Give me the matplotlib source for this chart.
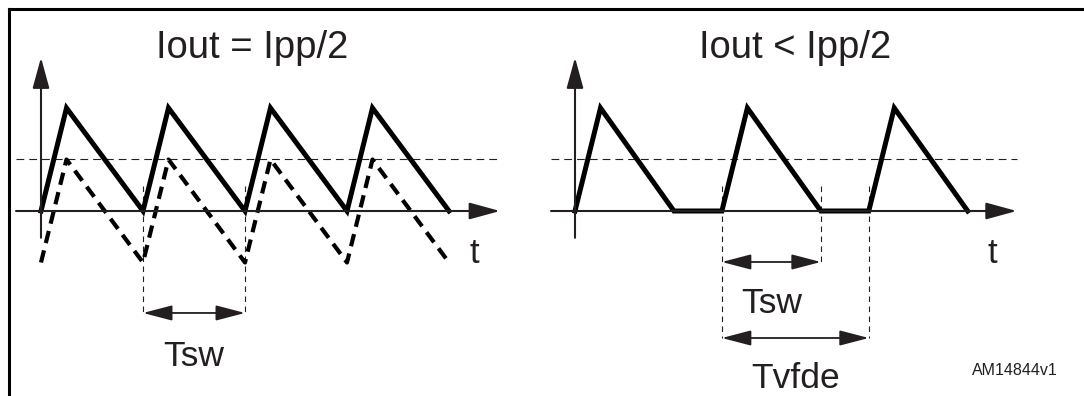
import matplotlib.pyplot as plt
from matplotlib.lines import Line2D

plt.rcParams['font.family'] = ['Liberation Sans', 'DejaVu Sans']

# Left panel: Iout = Ipp/2  (time in Tsw units, current in Ipp units)
left_t = [0, 0.25, 1, 1.25, 2, 2.25, 3, 3.25, 4]
left_i = [0, 1, 0, 1, 0, 1, 0, 1, 0]
left_i_dashed = [v - 0.5 for v in left_i]
left_guides = [1, 2]

# Right panel: Iout < Ipp/2, idle time between pulses
right_t = [0, 0.25, 0.97, 1.44, 1.69, 2.41, 2.88, 3.13, 3.85]
right_i = [0, 1, 0, 0, 1, 0, 0, 1, 0]
right_guides = [1.44, 2.41, 2.88]

half_level = 0.5
ink = '#231f20'

fig = plt.figure(figsize=(10.84, 3.96), dpi=100)

# frame (left and top edges only are visible)
fig.add_artist(Line2D([9 / 1084, 9 / 1084], [0, 1 - 8.5 / 396], color='black', lw=2.2))
fig.add_artist(Line2D([9 / 1084, 1], [1 - 8.5 / 396, 1 - 8.5 / 396], color='black', lw=2.2))

ylim = (-185 / 103, 211 / 103)
ax1 = fig.add_axes([0, 0, 0.5, 1])
ax1.set_xlim(-41 / 102, 501 / 102)
ax2 = fig.add_axes([0.5, 0, 0.5, 1])
ax2.set_xlim(-33 / 102, 509 / 102)
for ax in (ax1, ax2):
    ax.set_ylim(*ylim)
    ax.axis('off')


def axis_arrow(ax, start, end):
    ax.annotate('', xy=end, xytext=start,
                arrowprops=dict(arrowstyle='-|>,head_length=1.9,head_width=0.52',
                                mutation_scale=10, lw=1.5, color=ink,
                                shrinkA=0, shrinkB=0))


def span_arrow(ax, x0, x1, y):
    ax.annotate('', xy=(x1, y), xytext=(x0, y),
                arrowprops=dict(arrowstyle='<|-|>,head_length=1.8,head_width=0.47',
                                mutation_scale=10, lw=1.3, color=ink,
                                shrinkA=0, shrinkB=0))


# left panel
ax1.plot([-0.245, 4.5], [half_level, half_level], color=ink, lw=0.8, dashes=(7, 4.5))
for g in left_guides:
    ax1.plot([g, g], [0.24, -0.99], color=ink, lw=0.8, dashes=(5, 4))
axis_arrow(ax1, (-0.245, 0), (4.5, 0))
axis_arrow(ax1, (0, -0.26), (0, 1.49))
ax1.plot(left_t, left_i_dashed, color='black', lw=3.0, dashes=(3, 1.8))
ax1.plot(left_t, left_i, color='black', lw=3.6, solid_joinstyle='miter')
span_arrow(ax1, left_guides[0], left_guides[1], -0.99)
ax1.text(2.07, 1.485, 'Iout = Ipp/2', fontsize=27.5, color=ink, ha='center', va='baseline')
ax1.text(4.25, -0.505, 't', fontsize=25, color=ink, ha='center', va='baseline')
ax1.text(1.5, -1.50, 'Tsw', fontsize=25.5, color=ink, ha='center', va='baseline')

# right panel
ax2.plot([-0.235, 4.33], [half_level, half_level], color=ink, lw=0.8, dashes=(7, 4.5))
ax2.plot([right_guides[0]] * 2, [0.24, -1.233], color=ink, lw=0.8, dashes=(5, 4))
ax2.plot([right_guides[1]] * 2, [0.24, -0.495], color=ink, lw=0.8, dashes=(5, 4))
ax2.plot([right_guides[2]] * 2, [0.24, -1.233], color=ink, lw=0.8, dashes=(5, 4))
axis_arrow(ax2, (-0.235, 0), (4.33, 0))
axis_arrow(ax2, (0, -0.26), (0, 1.49))
ax2.plot(right_t, right_i, color='black', lw=3.6, solid_joinstyle='miter')
span_arrow(ax2, right_guides[0], right_guides[1], -0.495)
span_arrow(ax2, right_guides[0], right_guides[2], -1.233)
ax2.text(2.16, 1.485, 'Iout < Ipp/2', fontsize=27.5, color=ink, ha='center', va='baseline')
ax2.text(4.09, -0.505, 't', fontsize=25, color=ink, ha='center', va='baseline')
ax2.text(1.93, -0.99, 'Tsw', fontsize=25.5, color=ink, ha='center', va='baseline')
ax2.text(2.16, -1.72, 'Tvfde', fontsize=25.5, color=ink, ha='center', va='baseline')
ax2.text(4.31, -1.59, 'AM14844v1', fontsize=11.5, color=ink, ha='center', va='baseline')

fig.savefig('out.png', dpi=100)
